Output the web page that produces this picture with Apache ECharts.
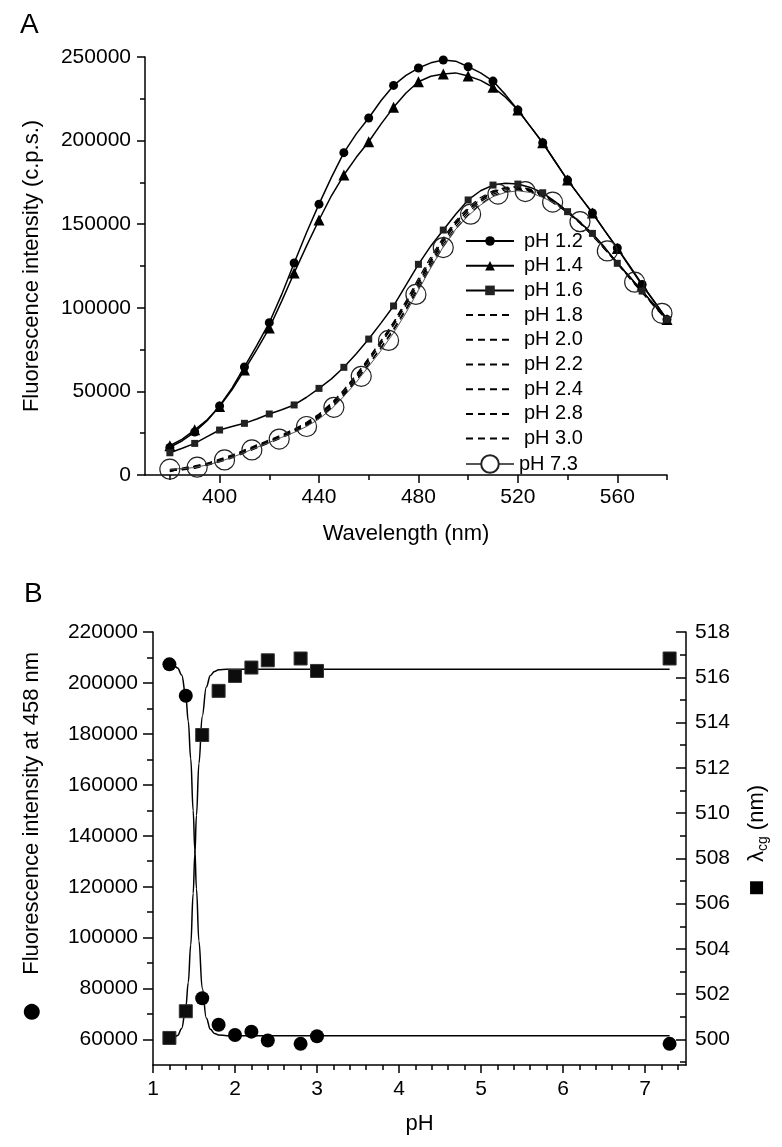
<!DOCTYPE html>
<html><head><meta charset="utf-8">
<script src="https://cdn.jsdelivr.net/npm/echarts@6/dist/echarts.min.js"></script>
<style>html,body{margin:0;padding:0;background:#fff}#c{width:782px;height:1147px}</style>
</head><body><div id="c"></div>
<script>
// ---------- Panel A data ----------
const wavelengths = [380,385,390,395,400,405,410,415,420,425,430,435,440,445,450,455,460,465,470,475,480,485,490,495,500,505,510,515,520,525,530,535,540,545,550,555,560,565,570,575,580];
const pH12 = [16500,20500,25700,32500,41300,52000,64600,77500,91100,108000,126800,145000,162000,178000,192800,204000,213500,224000,233000,239000,243400,246500,248200,247500,244200,240500,235600,227500,218300,208500,198700,187500,176400,166500,156700,146000,135800,125000,114000,103500,93000];
const pH14 = [17500,21500,27000,33000,41000,51000,62800,75000,87900,104000,120800,137000,152500,167000,179400,190000,199300,210000,219900,228500,235200,238500,239800,240500,238600,236000,231900,226000,218300,208500,198700,187500,176400,166500,156700,146000,135500,124500,113500,103500,93000];
const pH16 = [13300,16000,18900,23000,26900,29000,30900,33500,36500,39000,41900,46500,51800,57500,64400,72500,81300,91000,101100,113500,126000,137000,146500,156000,164500,170000,173400,174500,174000,172000,168800,163500,157500,151000,144500,136000,126600,118500,110000,101500,93000];
const pH18 = [2500,3500,5000,6800,9000,11500,14500,17500,20500,23500,27000,31000,36000,42500,50500,59500,69500,80000,91500,104000,117500,130500,142000,152000,160000,166000,170000,172000,172500,171000,168000,163500,158000,151500,144000,135500,127000,118000,109500,101000,93000];
const pH20 = [3000,3200,4800,6500,8500,11000,14000,17000,20000,23000,26500,30500,35000,41500,49000,58000,68000,78500,89500,101500,114500,127500,139500,150000,158500,164500,169000,171500,172000,170500,167500,163000,157500,151000,143500,135000,126500,118000,109500,101000,93500];
const pH22 = [2000,3800,5200,6200,8200,10800,13800,16800,19800,23000,26000,30000,34500,40500,48000,57000,66500,76500,87500,99500,113000,126000,138000,148500,157000,163500,168000,170500,171000,170000,167000,162500,157000,151000,143500,135500,127000,118500,110000,101500,94000];
const pH24 = [3200,4200,5500,7000,9500,12000,15000,18000,21000,24000,27500,31500,36500,43000,51000,60000,70000,80500,91000,103000,116000,129000,141000,151000,159000,165000,169500,171500,171500,170000,167000,162500,157000,150500,143000,135000,126500,117500,109000,100500,92500];
const pH28 = [2800,3000,4000,5800,7800,10200,13200,16200,19200,22200,25500,29500,34000,40000,47500,56500,66000,76000,86500,98500,111500,124500,136500,147000,155500,162000,167000,169500,170500,169500,166500,162000,157000,151000,143500,135500,127000,118500,110000,101500,93500];
const pH30 = [2200,3600,4600,6300,8600,11200,14200,17200,20200,23200,26800,30800,35500,42000,49500,58500,68500,79000,90000,102000,115000,128000,140000,150500,158500,164500,169000,171500,172000,170500,167500,163000,157500,151000,143500,135500,127000,118000,109500,101000,93000];
const pH73 = [3500,3800,4500,6000,8000,10500,13500,16500,19500,22500,25500,29000,33500,39500,47000,55500,65000,74500,85000,97000,110500,124000,136500,147000,155000,161500,166500,169000,170000,169000,166000,162500,157500,151500,143500,135500,127000,118500,110000,101500,93500];
const pH73MarkerWl = [380,391,402,413,424,435,446,457,468,479,490,501,512,523,534,545,556,567,578];
const pH73MarkerVal = [3500,4700,9000,15000,21500,29000,40500,59000,80500,108000,136000,156000,168000,169500,163200,151500,134000,115300,96700];
const xTicksA = [400,440,480,520,560];
const xMinorA = [380,420,460,500,540,580];

// ---------- Panel B data ----------
const pHValues = [1.2,1.4,1.6,1.8,2.0,2.2,2.4,2.8,3.0,7.3];
const intensity458 = [207300,195000,76200,65800,61800,63100,59600,58300,61300,58300];
const lambdaCg = [500.07,501.25,513.45,515.4,516.06,516.43,516.75,516.83,516.28,516.83];
const fitPH = [1.2,1.25,1.3,1.35,1.4,1.43,1.46,1.49,1.51,1.53,1.56,1.6,1.65,1.7,1.75,1.8,1.9,2.0,7.3];
const fitIntensity = [207300,206900,205900,203100,194800,185000,170300,149800,134500,119200,98700,80200,68500,64000,62400,61800,61500,61500,61500];
const fitLambda = [500.02,500.07,500.18,500.49,501.42,502.52,504.17,506.46,508.18,509.9,512.19,514.27,515.57,516.08,516.26,516.33,516.36,516.36,516.36];
const xTicksB = [1,2,3,4,5,6,7];
const xMinorB = [1.2,1.4,1.6,1.8,2.2,2.4,2.6,2.8,3.2,3.4,3.6,3.8,4.2,4.4,4.6,4.8,5.2,5.4,5.6,5.8,6.2,6.4,6.6,6.8,7.2,7.4];
const yLeftTicksB = [60000,80000,100000,120000,140000,160000,180000,200000,220000];
const yLeftMinorB = [70000,90000,110000,130000,150000,170000,190000,210000];
const yRightTicksB = [500,502,504,506,508,510,512,514,516,518];
const yRightMinorB = [499,501,503,505,507,509,511,513,515,517];

const FONT = '"Liberation Sans", Arial, Helvetica, sans-serif';
const BLACK = '#000';
const pair = (xs, ys) => xs.map((x, i) => [x, ys[i]]);
const axisLineStyle = { color: BLACK, width: 1.5 };
const plain = v => String(v);

const dashedNames = ['pH 1.8','pH 2.0','pH 2.2','pH 2.4','pH 2.8','pH 3.0'];
const dashedData = [pH18, pH20, pH22, pH24, pH28, pH30];

const series = [];
series.push({
  name: 'pH 1.2', type: 'line', xAxisIndex: 0, yAxisIndex: 0,
  data: pair(wavelengths, pH12), symbol: 'circle',
  symbolSize: (v, p) => p.dataIndex % 2 === 0 ? 9 : 0,
  lineStyle: { color: BLACK, width: 1.5 }, itemStyle: { color: BLACK }, z: 5
});
series.push({
  name: 'pH 1.4', type: 'line', xAxisIndex: 0, yAxisIndex: 0,
  data: pair(wavelengths, pH14), symbol: 'triangle',
  symbolSize: (v, p) => p.dataIndex % 2 === 0 ? 11 : 0,
  lineStyle: { color: BLACK, width: 1.5 }, itemStyle: { color: BLACK }, z: 5
});
series.push({
  name: 'pH 1.6', type: 'line', xAxisIndex: 0, yAxisIndex: 0,
  data: pair(wavelengths, pH16), symbol: 'rect',
  symbolSize: (v, p) => p.dataIndex % 2 === 0 ? 7 : 0,
  lineStyle: { color: BLACK, width: 1.5 }, itemStyle: { color: '#222' }, z: 5
});
dashedNames.forEach((n, k) => {
  series.push({
    name: n, type: 'line', xAxisIndex: 0, yAxisIndex: 0,
    data: pair(wavelengths, dashedData[k]), symbol: 'circle', symbolSize: 0, showSymbol: false,
    lineStyle: { color: BLACK, width: 1.2, type: [7, 5] }, itemStyle: { color: 'transparent' }, z: 4
  });
});
series.push({
  name: 'pH 7.3', type: 'line', xAxisIndex: 0, yAxisIndex: 0,
  data: pair(wavelengths, pH73), symbol: 'emptyCircle', symbolSize: 0, showSymbol: false,
  lineStyle: { color: '#555', width: 1 }, itemStyle: { color: '#222' }, z: 4
});
series.push({
  name: 'pH 7.3 markers', type: 'scatter', xAxisIndex: 0, yAxisIndex: 0,
  data: pair(pH73MarkerWl, pH73MarkerVal), symbol: 'circle', symbolSize: 20,
  itemStyle: { color: 'transparent', borderColor: '#222', borderWidth: 1.2, opacity: 1 }, z: 6
});
// Panel B
series.push({
  name: 'fit intensity', type: 'line', xAxisIndex: 2, yAxisIndex: 1,
  data: pair(fitPH, fitIntensity), showSymbol: false, symbol: 'none',
  smooth: 0.4, smoothMonotone: 'x',
  lineStyle: { color: BLACK, width: 1.5 }, z: 3
});
series.push({
  name: 'fit lambda', type: 'line', xAxisIndex: 2, yAxisIndex: 3,
  data: pair(fitPH, fitLambda), showSymbol: false, symbol: 'none',
  smooth: 0.4, smoothMonotone: 'x',
  lineStyle: { color: BLACK, width: 1.5 }, z: 3
});
series.push({
  name: 'Fluorescence intensity at 458 nm', type: 'scatter', xAxisIndex: 2, yAxisIndex: 1,
  data: pair(pHValues, intensity458), symbol: 'circle', symbolSize: 14,
  itemStyle: { color: BLACK, opacity: 1 }, z: 5
});
series.push({
  name: 'lambda cg', type: 'scatter', xAxisIndex: 2, yAxisIndex: 3,
  data: pair(pHValues, lambdaCg), symbol: 'rect', symbolSize: 13,
  itemStyle: { color: '#0d0d0d', borderColor: '#333', borderWidth: 1, opacity: 1 }, z: 5
});

const labelStyle = { fontSize: 21, color: BLACK, fontFamily: FONT };
const nameStyle = { fontSize: 22, color: BLACK, fontFamily: FONT };

const option = {
  animation: false,
  backgroundColor: '#fff',
  textStyle: { fontFamily: FONT, color: BLACK },
  title: [
    { text: 'A', left: 20, top: 11, padding: 0, textStyle: { fontSize: 28, fontWeight: 'normal', color: BLACK, fontFamily: FONT } },
    { text: 'B', left: 24, top: 580, padding: 0, textStyle: { fontSize: 28, fontWeight: 'normal', color: BLACK, fontFamily: FONT } }
  ],
  legend: [
    {
      data: ['pH 1.2','pH 1.4','pH 1.6'].concat(dashedNames),
      orient: 'vertical', left: 465, top: 231, padding: 0,
      itemWidth: 48, itemHeight: 12, itemGap: 4.7, selectedMode: false,
      textStyle: { fontSize: 20, color: BLACK, fontFamily: FONT, padding: [0, 0, 0, 5] }
    },
    {
      data: ['pH 7.3'],
      orient: 'vertical', left: 465, top: 454, padding: 0,
      itemWidth: 48, itemHeight: 22, selectedMode: false,
      textStyle: { fontSize: 20, color: BLACK, fontFamily: FONT }
    }
  ],
  grid: [
    { left: 145, top: 57, right: 115, bottom: 672, containLabel: false },
    { left: 153, top: 632, right: 96, bottom: 82, containLabel: false }
  ],
  xAxis: [
    {
      gridIndex: 0, type: 'value', min: 370, max: 580, position: 'bottom',
      axisLine: { show: true, onZero: false, lineStyle: axisLineStyle },
      axisTick: { show: true, length: 8, customValues: xTicksA, lineStyle: axisLineStyle },
      axisLabel: { customValues: xTicksA, margin: 12, formatter: plain, ...labelStyle },
      splitLine: { show: false },
      name: 'Wavelength (nm)', nameLocation: 'middle', nameGap: 48, nameTextStyle: nameStyle
    },
    {
      gridIndex: 0, type: 'value', min: 370, max: 580, position: 'bottom',
      axisLine: { show: false, onZero: false },
      axisTick: { show: true, length: 5, customValues: xMinorA, lineStyle: axisLineStyle },
      axisLabel: { show: false }, splitLine: { show: false }
    },
    {
      gridIndex: 1, type: 'value', min: 1, max: 7.5, position: 'bottom',
      axisLine: { show: true, onZero: false, lineStyle: axisLineStyle },
      axisTick: { show: true, length: 8, customValues: xTicksB, lineStyle: axisLineStyle },
      axisLabel: { customValues: xTicksB, margin: 14, formatter: plain, ...labelStyle },
      splitLine: { show: false },
      name: 'pH', nameLocation: 'middle', nameGap: 48, nameTextStyle: nameStyle
    },
    {
      gridIndex: 1, type: 'value', min: 1, max: 7.5, position: 'bottom',
      axisLine: { show: false, onZero: false },
      axisTick: { show: true, length: 5, customValues: xMinorB, lineStyle: axisLineStyle },
      axisLabel: { show: false }, splitLine: { show: false }
    }
  ],
  yAxis: [
    {
      gridIndex: 0, type: 'value', min: 0, max: 250000, interval: 50000, position: 'left',
      axisLine: { show: true, onZero: false, lineStyle: axisLineStyle },
      axisTick: { show: true, length: 8, lineStyle: axisLineStyle },
      minorTick: { show: true, splitNumber: 2, length: 5, lineStyle: { color: BLACK, width: 1.5 } },
      axisLabel: { margin: 14, formatter: plain, ...labelStyle },
      splitLine: { show: false },
      name: 'Fluorescence intensity (c.p.s.)', nameLocation: 'middle', nameGap: 102, nameTextStyle: nameStyle
    },
    {
      gridIndex: 1, type: 'value', min: 50000, max: 220000, position: 'left',
      axisLine: { show: true, onZero: false, lineStyle: axisLineStyle },
      axisTick: { show: true, length: 10, customValues: yLeftTicksB, lineStyle: axisLineStyle },
      axisLabel: { customValues: yLeftTicksB, margin: 15, formatter: plain, ...labelStyle },
      splitLine: { show: false },
      name: '{s|●}{t|Fluorescence intensity at 458 nm}', nameLocation: 'middle', nameGap: 110,
      nameTextStyle: {
        ...nameStyle,
        rich: {
          s: { fontSize: 21, color: BLACK, fontFamily: 'DejaVu Sans', padding: [0, 28, 0, 24] },
          t: { fontSize: 22, color: BLACK, fontFamily: FONT }
        }
      }
    },
    {
      gridIndex: 1, type: 'value', min: 50000, max: 220000, position: 'left',
      axisLine: { show: false, onZero: false },
      axisTick: { show: true, length: 6, customValues: yLeftMinorB, lineStyle: axisLineStyle },
      axisLabel: { show: false }, splitLine: { show: false }
    },
    {
      gridIndex: 1, type: 'value', min: 498.875, max: 518, position: 'right',
      axisLine: { show: true, onZero: false, lineStyle: axisLineStyle },
      axisTick: { show: true, inside: true, length: 10, customValues: yRightTicksB, lineStyle: axisLineStyle },
      axisLabel: { customValues: yRightTicksB, margin: 9, formatter: plain, ...labelStyle },
      splitLine: { show: false },
      name: '{q|■}{l|λ}{b|cg}{t| (nm)}', nameLocation: 'middle', nameGap: 58, nameRotate: 90,
      nameTextStyle: {
        ...nameStyle,
        rich: {
          q: { fontSize: 17, color: BLACK, fontFamily: 'DejaVu Sans', padding: [0, 18, 0, 16] },
          l: { fontSize: 22, color: BLACK, fontFamily: FONT },
          b: { fontSize: 14, color: BLACK, fontFamily: FONT, verticalAlign: 'bottom', padding: [12, 0, 0, 0] },
          t: { fontSize: 22, color: BLACK, fontFamily: FONT }
        }
      }
    },
    {
      gridIndex: 1, type: 'value', min: 498.875, max: 518, position: 'right',
      axisLine: { show: false, onZero: false },
      axisTick: { show: true, inside: true, length: 6, customValues: yRightMinorB, lineStyle: axisLineStyle },
      axisLabel: { show: false }, splitLine: { show: false }
    }
  ],
  series: series
};

const chart = echarts.init(document.getElementById('c'), null, { renderer: 'canvas' });
chart.setOption(option);
</script>
</body></html>
